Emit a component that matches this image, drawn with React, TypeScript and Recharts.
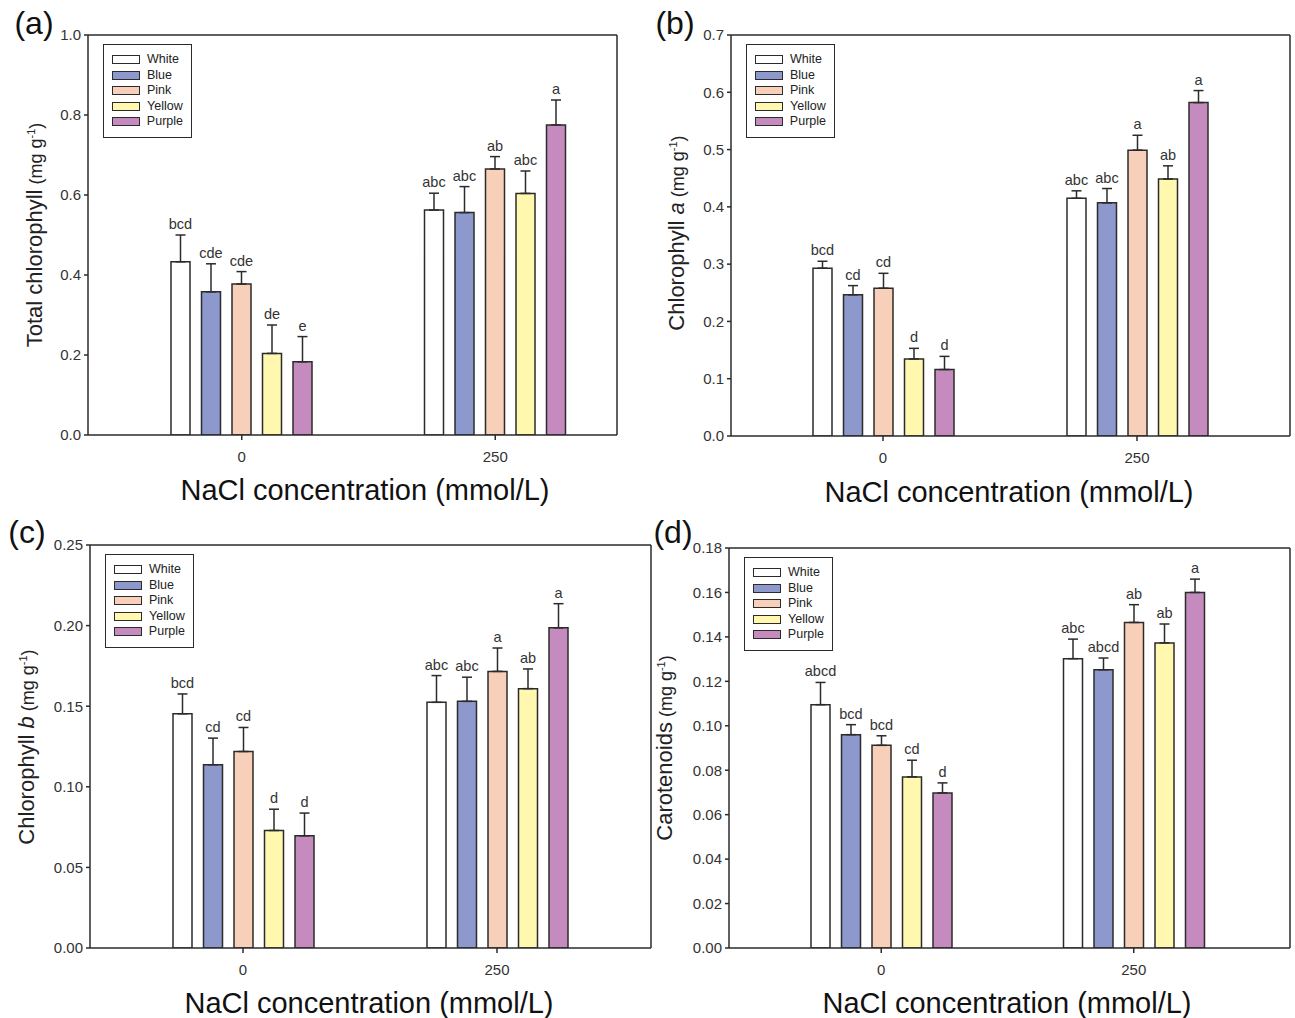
import React from "react";
import { BarChart, Bar, XAxis, YAxis, ErrorBar, LabelList, Legend, CartesianGrid } from "recharts";

const groups = ["0", "250"];
const colorNames = ["White", "Blue", "Pink", "Yellow", "Purple"];
const fills = ["#ffffff", "#8d98cc", "#f8cfb8", "#fff8ae", "#c68bbe"];

// rows = colour, columns = NaCl 0 / 250 mmol/L
const totalMeans = [[0.433, 0.5625], [0.358, 0.556], [0.3775, 0.665], [0.204, 0.604], [0.183, 0.775]];
const totalErrors = [[0.067, 0.042], [0.07, 0.065], [0.031, 0.031], [0.071, 0.056], [0.063, 0.0625]];
const totalLetters = [["bcd", "abc"], ["cde", "abc"], ["cde", "ab"], ["de", "abc"], ["e", "a"]];
const totalTicks = [0, 0.2, 0.4, 0.6, 0.8, 1.0];

const chlAMeans = [[0.293, 0.415], [0.2465, 0.407], [0.258, 0.499], [0.1345, 0.4486], [0.116, 0.582]];
const chlAErrors = [[0.012, 0.013], [0.016, 0.025], [0.026, 0.026], [0.0185, 0.023], [0.023, 0.021]];
const chlALetters = [["bcd", "abc"], ["cd", "abc"], ["cd", "a"], ["d", "ab"], ["d", "a"]];
const chlATicks = [0, 0.1, 0.2, 0.3, 0.4, 0.5, 0.6, 0.7];

const chlBMeans = [[0.1453, 0.1524], [0.1137, 0.153], [0.1219, 0.1716], [0.0729, 0.1609], [0.0696, 0.1986]];
const chlBErrors = [[0.0123, 0.0166], [0.0165, 0.015], [0.0149, 0.0145], [0.0132, 0.0122], [0.0141, 0.015]];
const chlBLetters = [["bcd", "abc"], ["cd", "abc"], ["cd", "a"], ["d", "ab"], ["d", "a"]];
const chlBTicks = [0, 0.05, 0.1, 0.15, 0.2, 0.25];

const carMeans = [[0.1095, 0.1302], [0.096, 0.1252], [0.0912, 0.1465], [0.077, 0.1373], [0.0698, 0.16]];
const carErrors = [[0.01, 0.0088], [0.0045, 0.0053], [0.0043, 0.008], [0.0075, 0.0085], [0.0045, 0.006]];
const carLetters = [["abcd", "abc"], ["bcd", "abcd"], ["bcd", "ab"], ["cd", "ab"], ["d", "a"]];
const carTicks = [0, 0.02, 0.04, 0.06, 0.08, 0.1, 0.12, 0.14, 0.16, 0.18];

const INK = "#2b2b2b";
const FONT = '"Liberation Sans", Arial, sans-serif';

function buildRows(means: number[][], errors: number[][], letters: string[][]) {
  return groups.map((g, gi) => {
    const row: Record<string, any> = { group: g };
    colorNames.forEach((c, ci) => {
      row[c] = means[ci][gi];
      row[c + "Err"] = [0, errors[ci][gi]];
      row[c + "Let"] = letters[ci][gi];
    });
    return row;
  });
}

function LegendBox() {
  return (
    <div
      style={{
        border: `1.5px solid ${INK}`,
        background: "#fff",
        padding: "7px 8px 7px 8px",
        fontSize: 12.5,
        color: "#222",
        lineHeight: "15.5px",
      }}
    >
      {colorNames.map((c, i) => (
        <div key={c} style={{ display: "flex", alignItems: "center" }}>
          <span
            style={{
              display: "inline-block",
              width: 26,
              height: 7,
              background: fills[i],
              border: `1.5px solid ${INK}`,
              marginRight: 7,
            }}
          />
          {c}
        </div>
      ))}
    </div>
  );
}

interface PanelProps {
  means: number[][];
  errors: number[][];
  letters: string[][];
  ticks: number[];
  digits: number;
  box: number[]; // plot frame: x0, y0, x1, y1 on the page
  pad: number[];
}

function Panel({ means, errors, letters, ticks, digits, box, pad }: PanelProps) {
  const [x0, y0, x1, y1] = box;
  const width = x1 - x0 + 100;
  const height = y1 - y0 + 80;
  const data = buildRows(means, errors, letters);

  const letterContent = (ci: number) => (props: any) => {
    const x = Number(props.x);
    const y = Number(props.y);
    const w = Number(props.width);
    const h = Number(props.height);
    const idx = props.index;
    const top = y - (h * errors[ci][idx]) / means[ci][idx];
    return (
      <text x={x + w / 2} y={top - 6} textAnchor="middle" fontSize={14.5} fill="#333">
        {props.value}
      </text>
    );
  };

  return (
    <div style={{ position: "absolute", left: x0 - 90, top: y0 - 40 }}>
      <BarChart
        width={width}
        height={height}
        data={data}
        margin={{ top: 40, right: 10, bottom: 0, left: 40 }}
        barSize={19}
        barGap={11.5}
      >
        {/* closed frame around the plot */}
        <CartesianGrid
          stroke={INK}
          strokeWidth={1.5}
          horizontalCoordinatesGenerator={({ offset }: any) => [offset.top]}
          verticalCoordinatesGenerator={({ offset }: any) => [offset.left + offset.width]}
        />
        <XAxis
          dataKey="group"
          padding={{ left: pad[0], right: pad[1] }}
          height={40}
          tickSize={5}
          tickMargin={11}
          interval={0}
          tick={{ fontSize: 15, fill: "#333" }}
          tickLine={{ stroke: INK, strokeWidth: 1.5 }}
          axisLine={{ stroke: INK, strokeWidth: 1.5 }}
        />
        <YAxis
          type="number"
          domain={[0, ticks[ticks.length - 1]]}
          ticks={ticks}
          allowDataOverflow
          width={50}
          tickSize={4}
          tickMargin={3}
          tick={{ fontSize: 15, fill: "#333" }}
          tickFormatter={(v: number) => v.toFixed(digits)}
          tickLine={{ stroke: INK, strokeWidth: 1.5 }}
          axisLine={{ stroke: INK, strokeWidth: 1.5 }}
        />
        <Legend
          layout="horizontal"
          align="center"
          verticalAlign="middle"
          wrapperStyle={{ left: 105, top: 49, width: 89 }}
          content={() => <LegendBox />}
        />
        {colorNames.map((c, ci) => (
          <Bar
            key={c}
            dataKey={c}
            name={c}
            fill={fills[ci]}
            stroke={INK}
            strokeWidth={1.5}
            isAnimationActive={false}
          >
            <ErrorBar
              dataKey={c + "Err"}
              direction="y"
              width={5}
              stroke={INK}
              strokeWidth={1.5}
              isAnimationActive={false}
            />
            <LabelList dataKey={c + "Let"} content={letterContent(ci)} />
          </Bar>
        ))}
      </BarChart>
    </div>
  );
}

function YLabel({ cx, cy, main, italic }: { cx: number; cy: number; main: string; italic?: string }) {
  return (
    <div
      style={{
        position: "absolute",
        left: cx,
        top: cy,
        transform: "translate(-50%, -50%) rotate(-90deg)",
        whiteSpace: "nowrap",
        fontSize: 22,
        color: "#222",
      }}
    >
      {main}
      {italic ? <i> {italic}</i> : null}
      <span style={{ fontSize: 18 }}>
        {" "}(mg g<sup style={{ fontSize: 11 }}>-1</sup>)
      </span>
    </div>
  );
}

function Title({ cx, cy, text, size }: { cx: number; cy: number; text: string; size: number }) {
  return (
    <div
      style={{
        position: "absolute",
        left: cx,
        top: cy,
        transform: "translate(-50%, -50%)",
        whiteSpace: "nowrap",
        fontSize: size,
        color: "#111",
      }}
    >
      {text}
    </div>
  );
}

export default function App() {
  const xTitle = "NaCl concentration (mmol/L)";
  return (
    <div
      style={{
        position: "absolute",
        left: 0,
        top: 0,
        width: 1295,
        height: 1018,
        background: "#fff",
        fontFamily: FONT,
        overflow: "hidden",
      }}
    >
      <Panel means={totalMeans} errors={totalErrors} letters={totalLetters} ticks={totalTicks} digits={1} box={[88, 35, 617, 435]} pad={[27, -5]} />
      <Panel means={chlAMeans} errors={chlAErrors} letters={chlALetters} ticks={chlATicks} digits={1} box={[731, 35, 1290, 436]} pad={[25, 26]} />
      <Panel means={chlBMeans} errors={chlBErrors} letters={chlBLetters} ticks={chlBTicks} digits={2} box={[90, 545, 651, 948]} pad={[26, 27]} />
      <Panel means={carMeans} errors={carErrors} letters={carLetters} ticks={carTicks} digits={2} box={[729, 548, 1290, 948]} pad={[26, 30]} />

      <YLabel cx={35} cy={235} main="Total chlorophyll" />
      <YLabel cx={677} cy={233} main="Chlorophyll" italic="a" />
      <YLabel cx={27} cy={747} main="Chlorophyll" italic="b" />
      <YLabel cx={665} cy={748} main="Carotenoids" />

      <Title cx={365} cy={490} text={xTitle} size={29} />
      <Title cx={1009} cy={492} text={xTitle} size={29} />
      <Title cx={369} cy={1003} text={xTitle} size={29} />
      <Title cx={1007} cy={1003} text={xTitle} size={29} />

      <Title cx={34} cy={23} text="(a)" size={32} />
      <Title cx={675} cy={23} text="(b)" size={32} />
      <Title cx={27} cy={532} text="(c)" size={32} />
      <Title cx={673} cy={532} text="(d)" size={32} />
    </div>
  );
}
